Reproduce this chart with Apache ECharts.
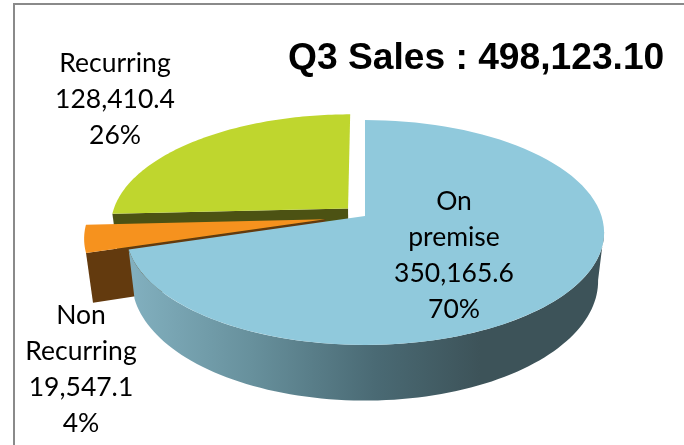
<!DOCTYPE html>
<html>
<head>
<meta charset="utf-8">
<style>
  html, body { margin: 0; padding: 0; background: #fff; }
  #chart { width: 684px; height: 445px; }
</style>
<script src="https://cdn.jsdelivr.net/npm/echarts@6/dist/echarts.min.js"></script>
</head>
<body>
<div id="chart"></div>
<script>
// chart data
const categories = ["On\npremise", "Non\nRecurring", "Recurring"];
const sales = [350165.6, 19547.1, 128410.4];
const chartTitle = "Q3 Sales : 498,123.10";

// slice look, same order as the data
const explode = [0, 0.17, 0.1];
const topColors = ["#90c9dc", "#f6921e", "#bfd62e"];
const faceColors = [null, "#633a0e", "#4c5213"];
const paintOrder = [3, 2, 1];
const labelX = [454, 81, 115];
const labelY = [183, 297, 45];

// perspective of the tilted disc
const cx = 365, cy = 216;
const radiusX = 236.5, radiusY = 110;
const perspective = 0.1467;
const depth = 47.5;
const bottomScale = 0.975;

const total = sales.reduce((a, b) => a + b, 0);

// disc position -> screen, theta is clockwise from 12 o'clock
const project = (theta, r, ex, lower) => {
  const mid = ex.mid;
  const u = r * Math.sin(theta) + ex.size * Math.sin(mid);
  const w = -r * Math.cos(theta) - ex.size * Math.cos(mid);
  const s = 1 / (1 - perspective * w);
  const x = radiusX * u * s;
  const y = radiusY * w * s;
  if (lower) return [cx + x * bottomScale, cy + y + depth * s];
  return [cx + x, cy + y];
};

const arc = (from, to, ex, lower) => {
  const pts = [];
  const n = 90;
  for (let i = 0; i <= n; i++) {
    pts.push(project(from + ((to - from) * i) / n, 1, ex, lower));
  }
  return pts;
};

const renderItem = (params, api) => {
  const i = params.dataIndex;
  let before = 0;
  for (let k = 0; k < i; k++) before += sales[k];
  const start = (before / total) * Math.PI * 2;
  const end = ((before + api.value(0)) / total) * Math.PI * 2;
  const ex = { mid: (start + end) / 2, size: explode[i] };
  const z2 = paintOrder[i] * 10;
  const children = [];

  if (i === 0) {
    // outer wall of the big slice
    const from = (98 * Math.PI) / 180;
    const wall = arc(from, end, ex, false).concat(arc(from, end, ex, true).reverse());
    children.push({
      type: "polygon",
      z2: z2,
      shape: { points: wall },
      style: {
        fill: new echarts.graphic.LinearGradient(130, 0, 480, 0, [
          { offset: 0, color: "#82b0bf" },
          { offset: 0.35, color: "#67909c" },
          { offset: 0.7, color: "#4a6a74" },
          { offset: 1, color: "#3d5359" },
        ], true),
      },
    });
  } else {
    // cut face below the front edge
    const face = [
      project(start, 1, ex, false),
      project(start, 0, ex, false),
      project(start, 0, ex, true),
      project(start, 1, ex, true),
    ];
    children.push({
      type: "polygon",
      z2: z2,
      shape: { points: face },
      style: { fill: faceColors[i] },
    });
  }

  const top = [project(0, 0, ex, false)].concat(arc(start, end, ex, false));
  children.push({
    type: "polygon",
    z2: z2 + 1,
    shape: { points: top },
    style: { fill: topColors[i] },
  });

  const value = api.value(0).toLocaleString("en-US", { minimumFractionDigits: 1 });
  const percent = Math.round((api.value(0) / total) * 100) + "%";
  children.push({
    type: "text",
    z2: 100,
    x: labelX[i],
    y: labelY[i],
    style: {
      text: categories[i] + "\n" + value + "\n" + percent,
      fill: "#000",
      font: '26.5px Lato, "Open Sans", sans-serif',
      lineHeight: 36,
      align: "center",
      verticalAlign: "top",
    },
  });

  return { type: "group", children: children };
};

const chart = echarts.init(document.getElementById("chart"), null, { renderer: "canvas" });

chart.setOption({
  animation: false,
  title: {
    text: chartTitle,
    left: 283,
    top: 35,
    textStyle: { fontFamily: '"Liberation Sans", Arial, sans-serif', fontSize: 37.2, fontWeight: "bold", color: "#000" },
  },
  graphic: [
    {
      type: "polyline",
      shape: { points: [[14, 445], [14, 4], [684, 4]] },
      style: { stroke: "#8a8a8a", lineWidth: 2, fill: null },
    },
  ],
  series: [
    {
      type: "custom",
      coordinateSystem: "none",
      renderItem: renderItem,
      data: sales.map((v) => [v]),
      encode: { value: 0 },
    },
  ],
});
</script>
</body>
</html>
